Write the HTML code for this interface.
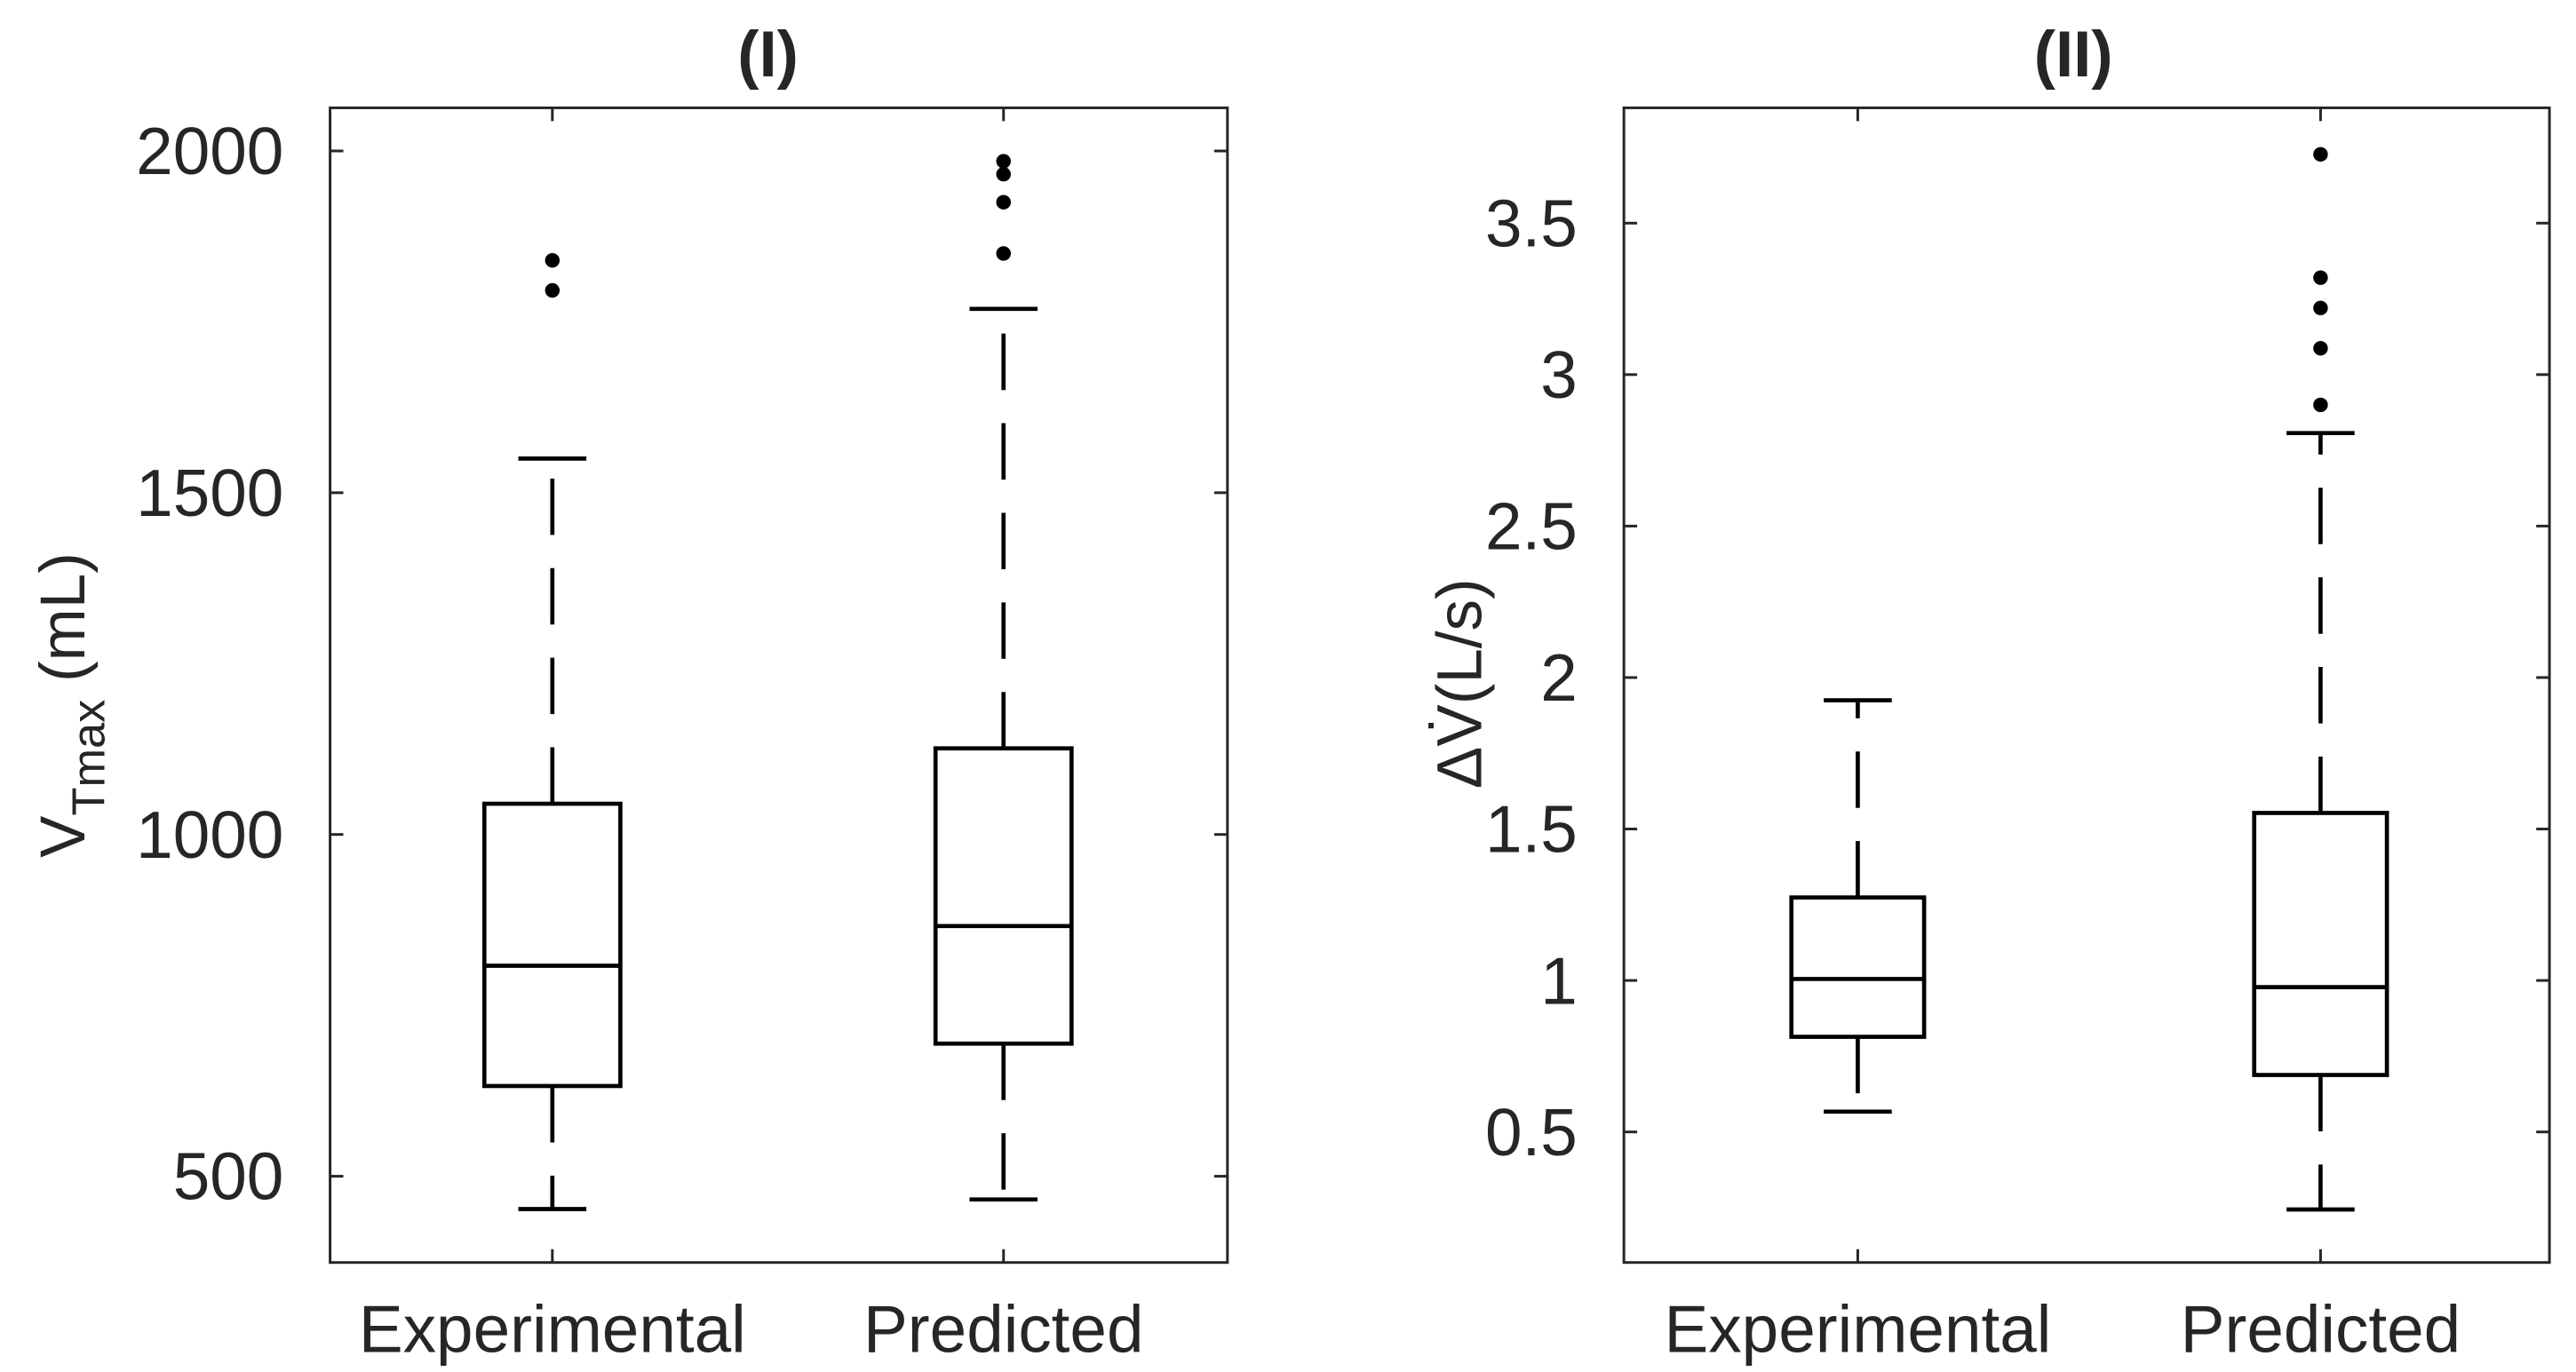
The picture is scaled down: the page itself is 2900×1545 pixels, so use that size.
<!DOCTYPE html>
<html><head><meta charset="utf-8"><style>
html,body{margin:0;padding:0;background:#fff;}
svg{display:block;}
text{font-family:"Liberation Sans",Arial,sans-serif;fill:#262626;}
</style></head><body>
<svg id="chart" width="2900" height="1545" viewBox="0 0 1553 827" preserveAspectRatio="none" xmlns="http://www.w3.org/2000/svg"></svg>
<script>
// Panel I data
const categories = ["Experimental", "Predicted"];
const p1Q1 = [632, 694];
const p1Median = [808, 866];
const p1Q3 = [1045, 1126];
const p1WhiskLo = [452, 466];
const p1WhiskHi = [1550, 1769];
const p1Outliers = [[1840, 1796], [1985, 1966, 1925, 1850]];
const p1Ticks = [500, 1000, 1500, 2000];
const p1TickLabels = ["500", "1000", "1500", "2000"];
// Panel II data
const p2Q1 = [0.814, 0.688];
const p2Median = [1.005, 0.978];
const p2Q3 = [1.274, 1.553];
const p2WhiskLo = [0.567, 0.244];
const p2WhiskHi = [1.925, 2.807];
const p2Outliers = [[], [3.727, 3.32, 3.22, 3.087, 2.90]];
const p2Ticks = [0.5, 1, 1.5, 2, 2.5, 3, 3.5];
const p2TickLabels = ["0.5", "1", "1.5", "2", "2.5", "3", "3.5"];

const svg = document.getElementById('chart');
const NS = 'http://www.w3.org/2000/svg';
function mk(tag, attrs, parent) {
  const e = document.createElementNS(NS, tag);
  for (const k in attrs) e.setAttribute(k, attrs[k]);
  (parent || svg).appendChild(e);
  return e;
}

function panel(cfg) {
  const g = mk('g', {});
  
  
  const y = v => cfg.y0 + (v - cfg.v0) * cfg.k;
  const x = i => cfg.cx[i];
  const box = mk('rect', {x: cfg.L, y: cfg.T, width: cfg.R - cfg.L, height: cfg.B - cfg.T, fill: 'none', stroke: '#262626', 'stroke-width': 1.6}, g);
  
  
  cfg.ticks.forEach((t, i) => {
    const yy = y(t);
    mk('line', {x1: cfg.L, x2: cfg.L + 8, y1: yy, y2: yy, stroke: '#262626', 'stroke-width': 1.6}, g);
    mk('line', {x1: cfg.R, x2: cfg.R - 8, y1: yy, y2: yy, stroke: '#262626', 'stroke-width': 1.6}, g);
    const tx = mk('text', {x: cfg.L - 28, y: yy + 14, 'text-anchor': 'end', 'font-size': 40}, g);
    tx.textContent = cfg.labels[i];
    
    
  });
  categories.forEach((c, i) => {
    mk('line', {x1: x(i), x2: x(i), y1: cfg.B, y2: cfg.B - 8, stroke: '#262626', 'stroke-width': 1.6}, g);
    mk('line', {x1: x(i), x2: x(i), y1: cfg.T, y2: cfg.T + 8, stroke: '#262626', 'stroke-width': 1.6}, g);
    const tx = mk('text', {x: x(i), y: cfg.B + 54, 'text-anchor': 'middle', 'font-size': 40}, g);
    tx.textContent = c;
    
    
  });
  categories.forEach((c, i) => {
    const bg = mk('g', {}, g);
    
    
    const cx = x(i), hw = cfg.hw, cw = 20.5;
    const st = {stroke: '#000', 'stroke-width': 2.5, fill: 'none'};
    mk('rect', Object.assign({x: cx - hw, y: y(cfg.q3[i]), width: 2 * hw, height: y(cfg.q1[i]) - y(cfg.q3[i])}, st), bg);
    mk('line', Object.assign({x1: cx - hw, x2: cx + hw, y1: y(cfg.med[i]), y2: y(cfg.med[i])}, st), bg);
    mk('line', Object.assign({x1: cx, x2: cx, y1: y(cfg.q3[i]), y2: y(cfg.hi[i]), 'stroke-dasharray': '34 20', 'stroke-linecap': 'butt'}, st), bg);
    mk('line', Object.assign({x1: cx, x2: cx, y1: y(cfg.q1[i]), y2: y(cfg.lo[i]), 'stroke-dasharray': '34 20', 'stroke-linecap': 'butt'}, st), bg);
    mk('line', Object.assign({x1: cx - cw, x2: cx + cw, y1: y(cfg.hi[i]), y2: y(cfg.hi[i])}, st), bg);
    mk('line', Object.assign({x1: cx - cw, x2: cx + cw, y1: y(cfg.lo[i]), y2: y(cfg.lo[i])}, st), bg);
    cfg.out[i].forEach(v => {
      const d = mk('circle', {cx: cx, cy: y(v), r: 4.4, fill: '#000'}, bg);
      
      
    });
  });
  const t = mk('text', {x: cfg.titleX, y: 46, 'text-anchor': 'middle', 'font-size': 39, 'font-weight': 'bold'}, g);
  t.textContent = cfg.title;
  
  
  return g;
}

panel({name: 'panel-i', L: 199, R: 740, T: 65, B: 761, cx: [333, 605], hw: 41,
  v0: 2000, y0: 91, k: -206 / 500, ticks: p1Ticks, labels: p1TickLabels,
  q1: p1Q1, med: p1Median, q3: p1Q3, lo: p1WhiskLo, hi: p1WhiskHi, out: p1Outliers,
  title: '(I)', titleX: 463});
panel({name: 'panel-ii', L: 979, R: 1537, T: 65, B: 761, cx: [1120, 1399], hw: 40,
  v0: 1, y0: 591, k: -182.6, ticks: p2Ticks, labels: p2TickLabels,
  q1: p2Q1, med: p2Median, q3: p2Q3, lo: p2WhiskLo, hi: p2WhiskHi, out: p2Outliers,
  title: '(II)', titleX: 1250});

const yt1 = mk('text', {transform: 'translate(51,425) rotate(-90)', 'text-anchor': 'middle', 'font-size': 38});
yt1.innerHTML = 'V<tspan dy="12" font-size="28">Tmax</tspan><tspan dy="-12">  (mL)</tspan>';


const yt2 = mk('text', {transform: 'translate(893,412) rotate(-90)', 'text-anchor': 'middle', 'font-size': 38});
yt2.textContent = 'ΔV\u0307(L/s)';


</script>
</body></html>
